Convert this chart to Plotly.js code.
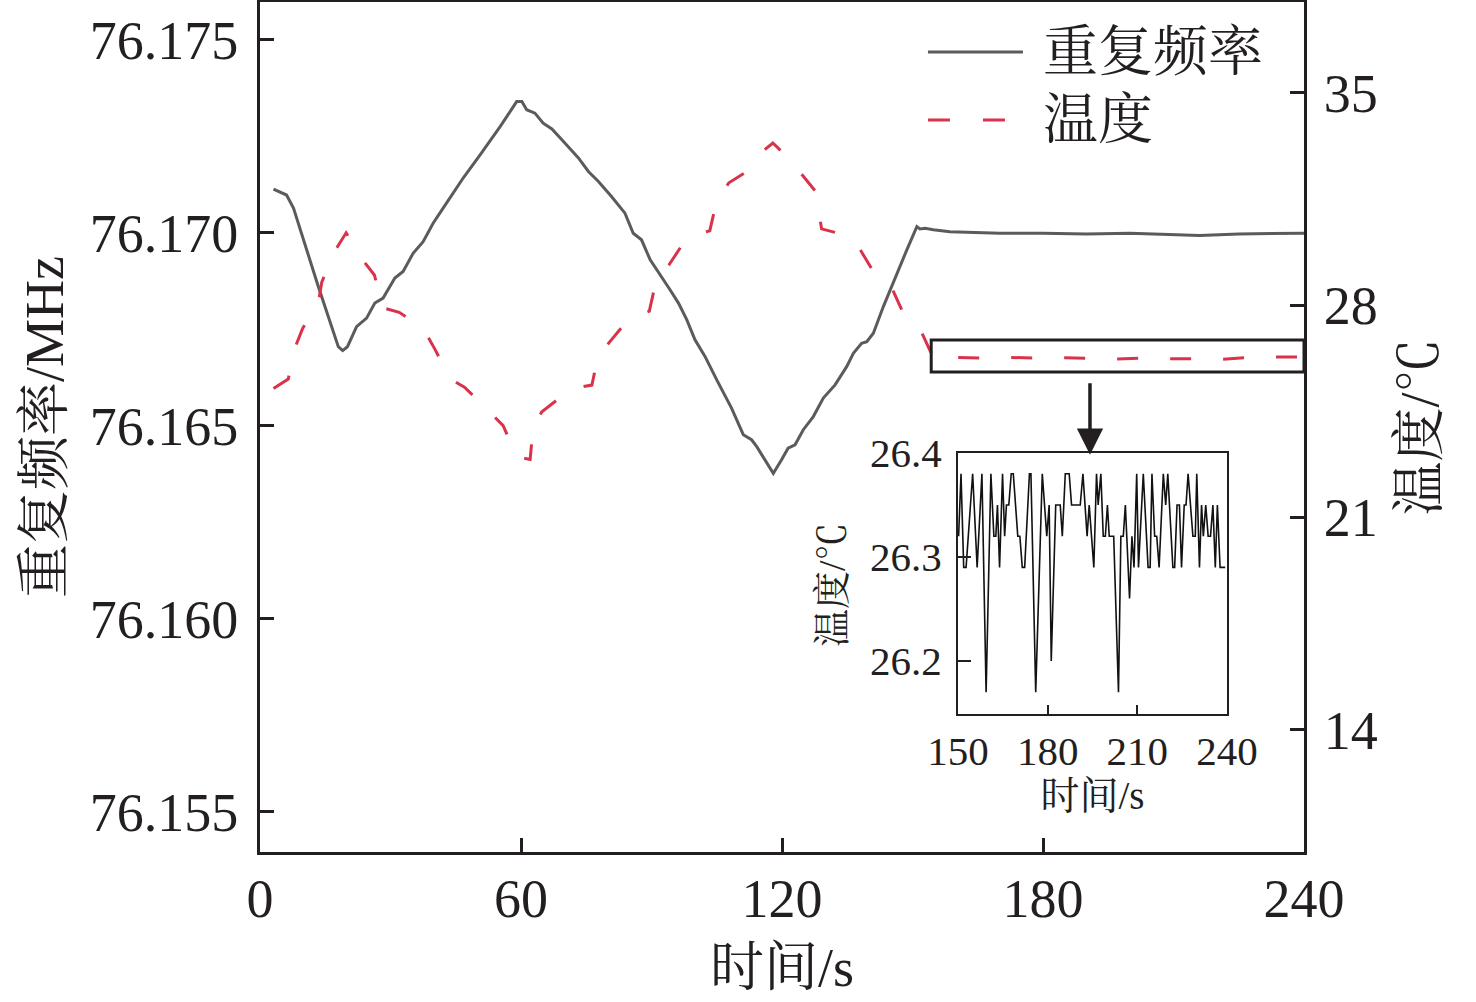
<!DOCTYPE html>
<html>
<head>
<meta charset="utf-8">
<script src="https://cdn.plot.ly/plotly-3.0.1.min.js"></script>
<style>
  html, body { margin: 0; padding: 0; background: #fff; }
  #chart { width: 1476px; height: 1002px; }
</style>
</head>
<body>
<div id="chart"></div>
<script>
// repetition frequency (MHz)
var freqT = [3.1, 6.1, 7.7, 10.0, 13.4, 18.0, 19.0, 20.1, 22.2, 24.5, 26.4, 28.3, 31.0, 32.9, 35.2, 37.5, 39.8, 42.1, 46.7, 50.6,
  55.2, 59.0, 60.2, 61.3, 63.2, 65.1, 67.1, 69.4, 70.5, 73.2, 75.5, 77.8, 80.8, 83.9, 85.8, 87.7, 89.7, 92.3, 94.3, 96.2,
  98.1, 100.0, 102.3, 105.0, 108.4, 111.1, 113.0, 114.2, 116.5, 118.0, 119.9, 121.4, 123.0, 124.9, 127.2, 129.5, 132.2, 134.9, 136.4, 138.3,
  139.5, 141.0, 143.3, 146.4, 148.7, 151.0, 151.7, 152.9, 154.8, 158.6, 162.5, 170.1, 180, 190, 200, 210, 216, 225, 240];
var freqV = [76.17113, 76.17098, 76.17064, 76.16982, 76.16861, 76.16705, 76.16695, 76.16705, 76.16757, 76.16779, 76.16818, 76.16831, 76.16883, 76.16900, 76.16947, 76.16977, 76.17025, 76.17064, 76.17142, 76.17202,
  76.17275, 76.17340, 76.17340, 76.17319, 76.17310, 76.17284, 76.17269, 76.17241, 76.17228, 76.17194, 76.17159, 76.17133, 76.17094, 76.17051, 76.16999, 76.16982, 76.16930, 76.16887, 76.16852, 76.16818,
  76.16775, 76.16723, 76.16680, 76.16619, 76.16546, 76.16477, 76.16464, 76.16446, 76.16403, 76.16377, 76.16412, 76.16442, 76.16451, 76.16490, 76.16524, 76.16572, 76.16606, 76.16654, 76.16688, 76.16714,
  76.16718, 76.16740, 76.16809, 76.16896, 76.16956, 76.17016, 76.17010, 76.17012, 76.17008, 76.17003, 76.17002, 76.16999, 76.16999, 76.16997, 76.16999, 76.16996, 76.16993, 76.16997, 76.16999];

// temperature (°C), red dashed curve
var tempT = [3.1, 6.5, 7.9, 9.8, 13.4, 14.2, 17.1, 19.8, 23.2, 26.3, 28.2, 32.0, 37.5, 40.1, 43.8, 47.0, 51.6, 55.9, 59.0, 62.1,
  62.8, 64.8, 71.7, 76.3, 77.6, 80.3, 84.7, 89.5, 91.0, 94.0, 98.2, 103.4, 105.0, 107.8, 111.9, 115.2, 117.9, 121.4, 124.8, 127.8,
  128.3, 129.1, 134.5, 137.9, 141.6, 145.2, 148.0, 151.9, 155.0, 159.9, 167.6, 172.6, 178.8, 183.5, 191.0, 196.3, 203.8, 208.5, 215.8, 220.6,
  226.9, 231.7, 240];
var tempV = [25.25, 25.56, 26.54, 27.23, 28.06, 28.75, 29.76, 30.38, 29.56, 28.99, 27.91, 27.76, 27.23, 26.57, 25.56, 25.29, 24.65, 24.02, 23.0, 22.91,
  23.99, 24.48, 25.25, 25.36, 26.24, 26.77, 27.53, 27.8, 28.77, 29.32, 30.23, 30.45, 31.44, 32.03, 32.4, 33.02, 33.34, 32.86, 32.26, 31.73,
  31.22, 30.51, 30.31, 29.84, 28.96, 28.58, 27.69, 27.16, 26.19, 26.27, 26.25, 26.27, 26.25, 26.27, 26.24, 26.22, 26.25, 26.23, 26.23, 26.2,
  26.27, 26.29, 26.28];

// inset: temperature detail 150-240 s
var insetT = [150.2, 151.0, 151.9, 152.7, 154.9, 156.4, 158.0, 159.4, 161.0, 162.0, 162.65, 163.2, 163.9, 164.9, 165.6, 166.2, 167.0, 167.8, 168.5, 170.0,
  170.7, 171.5, 172.3, 173.9, 174.4, 176.0, 178.2, 179.7, 180.5, 181.2, 182.7, 184.2, 184.9, 185.9, 187.2, 188.0, 190.9, 191.8, 193.2, 193.9,
  195.45, 196.35, 196.9, 197.8, 198.6, 199.3, 200.0, 200.6, 202.1, 203.7, 204.5, 205.3, 206.0, 207.4, 208.2, 208.9, 209.8, 210.4, 212.0, 213.6,
  214.3, 214.9, 215.8, 216.5, 217.3, 218.7, 219.5, 220.2, 221.9, 222.5, 223.3, 224.1, 224.8, 225.7, 226.3, 227.0, 228.6, 229.4, 229.9, 230.8,
  231.5, 232.1, 232.9, 233.7, 234.5, 235.3, 236.1, 236.8, 237.7, 238.7, 239.4];
var insetV = [26.32, 26.38, 26.29, 26.29, 26.38, 26.29, 26.38, 26.17, 26.38, 26.32, 26.32, 26.35, 26.29, 26.38, 26.32, 26.35, 26.35, 26.38, 26.38, 26.32,
  26.32, 26.29, 26.29, 26.38, 26.38, 26.17, 26.38, 26.32, 26.35, 26.20, 26.35, 26.35, 26.32, 26.38, 26.38, 26.35, 26.35, 26.38, 26.32, 26.35,
  26.29, 26.38, 26.35, 26.38, 26.32, 26.32, 26.35, 26.32, 26.32, 26.17, 26.32, 26.32, 26.35, 26.26, 26.32, 26.29, 26.38, 26.29, 26.38, 26.29,
  26.29, 26.38, 26.32, 26.32, 26.29, 26.38, 26.35, 26.38, 26.29, 26.29, 26.35, 26.35, 26.29, 26.35, 26.35, 26.38, 26.32, 26.32, 26.38, 26.29,
  26.35, 26.32, 26.35, 26.32, 26.32, 26.35, 26.29, 26.35, 26.29, 26.29, 26.29];

var xTicks = [0, 60, 120, 180, 240];
var freqTicks = [76.155, 76.160, 76.165, 76.170, 76.175];
var tempTicks = [14, 21, 28, 35];
var insetXTicks = [150, 180, 210, 240];
var insetYTicks = [26.2, 26.3, 26.4];

var ink = '#231f20';
var fam = '"Liberation Serif", "Noto Serif CJK SC", "Noto Sans CJK SC", serif';
var grey = '#5b5b5b';
var red = '#d8334a';

var data = [
  {x: freqT, y: freqV, type: 'scatter', mode: 'lines', name: '重复频率',
   line: {color: grey, width: 3}, xaxis: 'x', yaxis: 'y'},
  {x: tempT, y: tempV, type: 'scatter', mode: 'lines', name: '温度',
   line: {color: red, width: 3, dash: '21px,32px'}, xaxis: 'x', yaxis: 'y2'},
  {x: insetT, y: insetV, type: 'scatter', mode: 'lines',
   line: {color: '#111', width: 1.6}, xaxis: 'x2', yaxis: 'y3'}
];

var axisBase = {
  showline: true, linecolor: ink, linewidth: 3, showgrid: false, zeroline: false,
  ticks: 'inside', tickcolor: ink, tickwidth: 3, ticklen: 14,
  tickfont: {family: fam, size: 54, color: ink}
};

var layout = {
  width: 1476, height: 1002,
  margin: {l: 260, r: 172, t: 2, b: 150},
  paper_bgcolor: '#fff', plot_bgcolor: 'rgba(0,0,0,0)',
  showlegend: false,
  font: {family: fam, color: ink},
  xaxis: Object.assign({}, axisBase, {
    range: [0, 240], tickvals: xTicks, mirror: true, domain: [0, 1],
    ticklabelstandoff: -3,
    title: {text: '时间/s', font: {family: fam, size: 54, color: ink}, standoff: 21}
  }),
  yaxis: Object.assign({}, axisBase, {
    range: [76.15396, 76.17598], tickvals: freqTicks, tickformat: '.3f',
    ticklabelstandoff: 8,
    title: {text: '重复频率/MHz', font: {family: fam, size: 54, color: ink}, standoff: 9}
  }),
  yaxis2: Object.assign({}, axisBase, {
    range: [9.965, 37.99], tickvals: tempTicks, overlaying: 'y', side: 'right', anchor: 'x',
    ticklabelstandoff: 6,
    title: {text: '温度/℃', font: {family: fam, size: 54, color: ink}, standoff: 24}
  }),
  xaxis2: Object.assign({}, axisBase, {
    domain: [0.6686, 0.9262], anchor: 'y3', range: [150, 240], tickvals: insetXTicks,
    mirror: true, linewidth: 2, tickwidth: 2, ticklen: 9,
    tickfont: {family: fam, size: 41, color: ink}, ticklabelstandoff: 0,
    title: {text: '时间/s', font: {family: fam, size: 39, color: ink}, standoff: 6}
  }),
  yaxis3: Object.assign({}, axisBase, {
    domain: [0.1624, 0.4694], anchor: 'x2', range: [26.149, 26.4], tickvals: insetYTicks, tickformat: '.1f',
    mirror: true, linewidth: 2, tickwidth: 2, ticklen: 13,
    tickfont: {family: fam, size: 41, color: ink}, ticklabelstandoff: 6
  }),
  shapes: [
    // box marking the zoomed section
    {type: 'rect', xref: 'x', yref: 'y2', x0: 154.3, x1: 240, y0: 25.79, y1: 26.85,
     line: {color: ink, width: 3}},
    // legend samples
    {type: 'line', xref: 'paper', yref: 'paper', x0: 0.6398, x1: 0.7308, y0: 0.9412, y1: 0.9412,
     line: {color: grey, width: 3}},
    {type: 'line', xref: 'paper', yref: 'paper', x0: 0.6398, x1: 0.7165, y0: 0.8612, y1: 0.8612,
     line: {color: red, width: 3, dash: '22px,33px'}}
  ],
  annotations: [
    {xref: 'paper', yref: 'paper', x: 0.7480, y: 0.9412, xanchor: 'left', yanchor: 'middle',
     text: '重复频率', showarrow: false, font: {family: fam, size: 55, color: ink}},
    {xref: 'paper', yref: 'paper', x: 0.7480, y: 0.8612, xanchor: 'left', yanchor: 'middle',
     text: '温度', showarrow: false, font: {family: fam, size: 55, color: ink}},
    // inset y title
    {xref: 'paper', yref: 'paper', x: 0.5479, y: 0.3141, xanchor: 'center', yanchor: 'middle',
     textangle: -90, text: '温度/℃', showarrow: false, font: {family: fam, size: 38, color: ink}},
    {xref: 'x', yref: 'y2', x: 190.8, y: 23.06, ax: 0, ay: -73, text: '',
     showarrow: true, arrowhead: 2, arrowsize: 1.5, arrowwidth: 3.5, arrowcolor: ink, standoff: 0}
  ]
};

Plotly.newPlot('chart', data, layout, {displayModeBar: false, staticPlot: true});
</script>
</body>
</html>
